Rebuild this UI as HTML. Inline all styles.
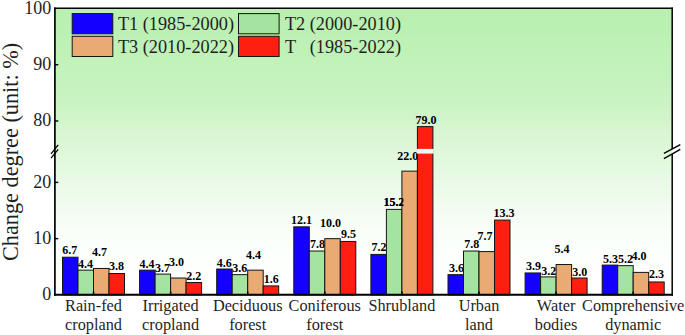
<!DOCTYPE html>
<html><head><meta charset="utf-8"><title>Change degree</title>
<style>
html,body{margin:0;padding:0;background:#fff;}
svg{display:block;}
text{font-family:"Liberation Serif","Times New Roman",serif;fill:#1f1f1f;}
.v{font-size:12px;font-weight:bold;text-anchor:middle;fill:#000;}
.t{font-size:18px;text-anchor:end;}
.x{font-size:16.3px;text-anchor:middle;}
.l{font-size:18.25px;}
.b{stroke:#141414;stroke-width:1;}
</style></head><body>
<svg width="685" height="335" viewBox="0 0 685 335">
<defs><linearGradient id="bg" x1="0" y1="0" x2="0" y2="1">
<stop offset="0" stop-color="#b9f0b0"/>
<stop offset="0.06" stop-color="#baf0b2"/>
<stop offset="0.18" stop-color="#c1f2b9"/>
<stop offset="0.29" stop-color="#c7f3c0"/>
<stop offset="0.354" stop-color="#cdf4c6"/>
<stop offset="0.4655" stop-color="#dbf7d6"/>
<stop offset="0.598" stop-color="#e9fae6"/>
<stop offset="0.71" stop-color="#f3fcf2"/>
<stop offset="0.766" stop-color="#f8fef7"/>
<stop offset="0.878" stop-color="#fdfffd"/>
<stop offset="1" stop-color="#ffffff"/>
</linearGradient></defs>
<rect x="0" y="0" width="685" height="335" fill="#fff"/>
<rect x="54.9" y="8.35" width="617.3" height="286.4" fill="url(#bg)"/>
<g>
<rect class="b" x="62.50" y="257.21" width="15.5" height="37.69" fill="#1400ff"/>
<rect class="b" x="139.60" y="270.15" width="15.5" height="24.75" fill="#1400ff"/>
<rect class="b" x="216.70" y="269.02" width="15.5" height="25.88" fill="#1400ff"/>
<rect class="b" x="293.80" y="226.84" width="15.5" height="68.06" fill="#1400ff"/>
<rect class="b" x="370.90" y="254.40" width="15.5" height="40.50" fill="#1400ff"/>
<rect class="b" x="448.00" y="274.65" width="15.5" height="20.25" fill="#1400ff"/>
<rect class="b" x="525.10" y="272.96" width="15.5" height="21.94" fill="#1400ff"/>
<rect class="b" x="602.20" y="265.09" width="15.5" height="29.81" fill="#1400ff"/>
<text class="v" x="69.8" y="254.4">6.7</text>
<text class="v" x="146.9" y="267.7">4.4</text>
<text class="v" x="224.2" y="266.5">4.6</text>
<text class="v" x="301.4" y="224.3">12.1</text>
<text class="v" x="378.9" y="251.1">7.2</text>
<text class="v" x="456.6" y="271.6">3.6</text>
<text class="v" x="533.4" y="270.3">3.9</text>
<text class="v" x="610.4" y="262.7">5.3</text>
</g>
<g>
<rect class="b" x="78.00" y="270.15" width="15.5" height="24.75" fill="#a5e3a0"/>
<rect class="b" x="155.10" y="274.09" width="15.5" height="20.81" fill="#a5e3a0"/>
<rect class="b" x="232.20" y="274.65" width="15.5" height="20.25" fill="#a5e3a0"/>
<rect class="b" x="309.30" y="251.02" width="15.5" height="43.88" fill="#a5e3a0"/>
<rect class="b" x="386.40" y="209.40" width="15.5" height="85.50" fill="#a5e3a0"/>
<rect class="b" x="463.50" y="251.02" width="15.5" height="43.88" fill="#a5e3a0"/>
<rect class="b" x="540.60" y="276.90" width="15.5" height="18.00" fill="#a5e3a0"/>
<rect class="b" x="617.70" y="265.65" width="15.5" height="29.25" fill="#a5e3a0"/>
<text class="v" x="85.6" y="267.7">4.4</text>
<text class="v" x="162.4" y="271.5">3.7</text>
<text class="v" x="239.8" y="272.0">3.6</text>
<text class="v" x="317.5" y="248.2">7.8</text>
<text class="v" x="394.1" y="206.4">15.2</text>
<text class="v" x="471.8" y="247.8">7.8</text>
<text class="v" x="548.7" y="274.6">3.2</text>
<text class="v" x="625.4" y="262.7">5.2</text>
</g>
<g>
<rect class="b" x="93.50" y="268.46" width="15.5" height="26.44" fill="#eaaa74"/>
<rect class="b" x="170.60" y="278.02" width="15.5" height="16.88" fill="#eaaa74"/>
<rect class="b" x="247.70" y="270.15" width="15.5" height="24.75" fill="#eaaa74"/>
<rect class="b" x="324.80" y="238.65" width="15.5" height="56.25" fill="#eaaa74"/>
<rect class="b" x="401.90" y="171.15" width="15.5" height="123.75" fill="#eaaa74"/>
<rect class="b" x="479.00" y="251.59" width="15.5" height="43.31" fill="#eaaa74"/>
<rect class="b" x="556.10" y="264.52" width="15.5" height="30.38" fill="#eaaa74"/>
<rect class="b" x="633.20" y="272.40" width="15.5" height="22.50" fill="#eaaa74"/>
<text class="v" x="99.6" y="256.4">4.7</text>
<text class="v" x="176.4" y="265.9">3.0</text>
<text class="v" x="253.4" y="258.5">4.4</text>
<text class="v" x="330.6" y="227.1">10.0</text>
<text class="v" x="407.8" y="160.3">22.0</text>
<text class="v" x="484.9" y="240.3">7.7</text>
<text class="v" x="561.9" y="253.2">5.4</text>
<text class="v" x="639.0" y="260.2">4.0</text>
<clipPath id="c152"><rect x="380" y="190" width="23.6" height="20"/></clipPath>
<text class="v" clip-path="url(#c152)" x="394.1" y="206.4">15.2</text>
</g>
<g>
<rect class="b" x="109.00" y="273.52" width="15.5" height="21.38" fill="#ff1f10"/>
<rect class="b" x="186.10" y="282.52" width="15.5" height="12.38" fill="#ff1f10"/>
<rect class="b" x="263.20" y="285.90" width="15.5" height="9.00" fill="#ff1f10"/>
<rect class="b" x="340.30" y="241.46" width="15.5" height="53.44" fill="#ff1f10"/>
<rect class="b" x="417.40" y="126.62" width="15.5" height="168.27" fill="#ff1f10"/>
<rect x="416.60" y="148.9" width="17.1" height="4.7" fill="#eefbec"/>
<rect class="b" x="494.50" y="220.09" width="15.5" height="74.81" fill="#ff1f10"/>
<rect class="b" x="571.60" y="278.02" width="15.5" height="16.88" fill="#ff1f10"/>
<rect class="b" x="648.70" y="281.96" width="15.5" height="12.94" fill="#ff1f10"/>
<text class="v" x="116.5" y="270.2">3.8</text>
<text class="v" x="193.8" y="279.5">2.2</text>
<text class="v" x="271.2" y="282.9">1.6</text>
<text class="v" x="348.5" y="238.1">9.5</text>
<text class="v" x="426.0" y="124.4">79.0</text>
<text class="v" x="503.9" y="217.0">13.3</text>
<text class="v" x="579.8" y="275.8">3.0</text>
<text class="v" x="656.6" y="278.2">2.3</text>
</g>
<g stroke="#000" fill="none">
<line x1="54.9" y1="7.6" x2="54.9" y2="295.7" stroke-width="1.7"/>
<line x1="672.2" y1="7.6" x2="672.2" y2="149.0" stroke-width="1.5"/>
<line x1="672.2" y1="154.0" x2="672.2" y2="295.7" stroke-width="1.5"/>
<line x1="54.05" y1="8.35" x2="672.95" y2="8.35" stroke-width="1.5"/>
<line x1="54.05" y1="294.75" x2="672.95" y2="294.75" stroke-width="1.9"/>
<line x1="55" y1="238.65" x2="58.3" y2="238.65" stroke-width="1.4"/>
<line x1="55" y1="182.40" x2="58.3" y2="182.40" stroke-width="1.4"/>
<line x1="55" y1="121.00" x2="58.3" y2="121.00" stroke-width="1.4"/>
<line x1="55" y1="64.75" x2="58.3" y2="64.75" stroke-width="1.4"/>
<line x1="93.50" y1="295" x2="93.50" y2="291.5" stroke-width="1.5"/>
<line x1="170.60" y1="295" x2="170.60" y2="291.5" stroke-width="1.5"/>
<line x1="247.70" y1="295" x2="247.70" y2="291.5" stroke-width="1.5"/>
<line x1="324.80" y1="295" x2="324.80" y2="291.5" stroke-width="1.5"/>
<line x1="401.90" y1="295" x2="401.90" y2="291.5" stroke-width="1.5"/>
<line x1="479.00" y1="295" x2="479.00" y2="291.5" stroke-width="1.5"/>
<line x1="556.10" y1="295" x2="556.10" y2="291.5" stroke-width="1.5"/>
<line x1="633.20" y1="295" x2="633.20" y2="291.5" stroke-width="1.5"/>
<line x1="51" y1="153.8" x2="58.2" y2="144.8" stroke-width="1.3"/>
<line x1="51" y1="158.2" x2="58.2" y2="149.4" stroke-width="1.3"/>
<line x1="663.9" y1="153.4" x2="680.3" y2="144.7" stroke-width="1.4"/>
<line x1="663.9" y1="158.6" x2="680.3" y2="149.4" stroke-width="1.4"/>
</g>
<text class="t" x="51.2" y="14.1">100</text>
<text class="t" x="51.2" y="70.0">90</text>
<text class="t" x="51.2" y="126.2">80</text>
<text class="t" x="51.2" y="187.6">20</text>
<text class="t" x="51.2" y="243.8">10</text>
<text class="t" x="51.2" y="300.1">0</text>
<text class="x" x="93.5" y="310.6">Rain-fed</text>
<text class="x" x="93.5" y="330.2">cropland</text>
<text class="x" x="170.6" y="310.6">Irrigated</text>
<text class="x" x="170.6" y="330.2">cropland</text>
<text class="x" x="247.7" y="310.6">Deciduous</text>
<text class="x" x="247.7" y="330.2">forest</text>
<text class="x" x="324.8" y="310.6">Coniferous</text>
<text class="x" x="324.8" y="330.2">forest</text>
<text class="x" x="401.9" y="310.6">Shrubland</text>
<text class="x" x="479.0" y="310.6">Urban</text>
<text class="x" x="479.0" y="330.2">land</text>
<text class="x" x="556.1" y="310.6">Water</text>
<text class="x" x="556.1" y="330.2">bodies</text>
<text class="x" x="633.2" y="310.6">Comprehensive</text>
<text class="x" x="633.2" y="330.2">dynamic</text>
<text transform="translate(17.9,261.0) rotate(-90) scale(0.928,1)" style="font-size:24px" x="0" y="0">Change degree (unit: %)</text>
<rect class="b" x="72.2" y="13.6" width="40.6" height="20.2" fill="#1400ff"/>
<text class="l" x="117.9" y="30.1" xml:space="preserve">T1 (1985-2000)</text>
<rect class="b" x="238.5" y="13.6" width="40.6" height="20.2" fill="#a5e3a0"/>
<text class="l" x="284.9" y="30.1" xml:space="preserve">T2 (2000-2010)</text>
<rect class="b" x="72.2" y="36.3" width="40.6" height="20.2" fill="#eaaa74"/>
<text class="l" x="117.9" y="52.6" xml:space="preserve">T3 (2010-2022)</text>
<rect class="b" x="238.5" y="36.3" width="40.6" height="20.2" fill="#ff1f10"/>
<text class="l" x="284.9" y="52.6" xml:space="preserve">T   (1985-2022)</text>
</svg></body></html>
